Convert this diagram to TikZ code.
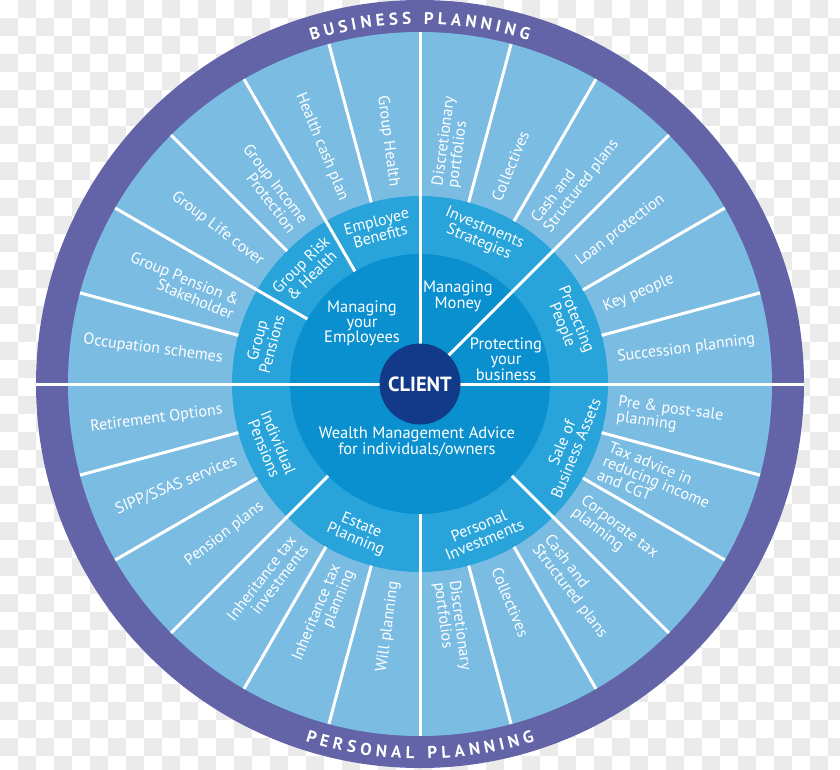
\documentclass[tikz,border=0pt]{standalone}
\usepackage{fontspec}
\setmainfont{PT Sans}
\usetikzlibrary{decorations.text}
\definecolor{ringpurple}{HTML}{6264A7}
\definecolor{segblue}{HTML}{7BBCE3}
\definecolor{midblue}{HTML}{29A4DB}
\definecolor{innerblue}{HTML}{0A90CF}
\definecolor{clientnavy}{HTML}{123A88}
\definecolor{checkgrey}{HTML}{EBEBEB}
\newcommand\lblfont{\fontsize{16}{15.2}\selectfont}
\newcommand\ttlfont{\fontsize{17}{17}\selectfont\bfseries}
\begin{document}
\begin{tikzpicture}[x=1pt,y=1pt,
  sepline/.style={white, line width=3pt},
  lefttxt/.style={text=white, inner sep=0pt, anchor=east, align=right, font=\lblfont},
  righttxt/.style={text=white, inner sep=0pt, anchor=west, align=left, font=\lblfont},
  midtxt/.style={text=white, inner sep=0pt, anchor=center, align=center, font=\lblfont},
  innertxt/.style={text=white, inner sep=0pt, anchor=center, align=center, font=\fontsize{16.5}{15}\selectfont},
  ringtxt/.style={decorate, decoration={text along path, text align={fit to path}, text color=white}}]
\useasboundingbox (-420,-385) rectangle (420,384);
% transparency checkerboard
\begin{scope}
\clip (-420,-385) rectangle (420,384);
\foreach \i in {0,...,46} {
  \pgfmathtruncatemacro\off{1-mod(\i,2)}
  \foreach \k in {0,...,21} {
    \fill[checkgrey] ({18*\i-420},{384-18*(2*\k+\off)}) rectangle ++(18,-18);
  }
}
\end{scope}
% rings
\fill[ringpurple] (0,0) circle[radius=384];
\fill[segblue] (0,0) circle[radius=352];
\fill[midblue] (0,0) circle[radius=188];
\fill[innerblue] (0,0) circle[radius=130];
% separators
\coordinate (wl) at (180:384);
\coordinate (wr) at (0:384);
\draw[sepline] (wl) -- (wr);
\foreach \a in {90,45} \draw[sepline] (\a:40) -- (\a:352);
\foreach \a in {120,150,225,270,315} \draw[sepline] (\a:130) -- (\a:352);
\foreach \a in {15,30,60,75,105,135,165,195,210,240,255,285,300,330,345} \draw[sepline] (\a:188) -- (\a:352);
% outer labels, left half
\foreach \a/\t [count=\i] in {172.5/{Occupation schemes}, 157.5/{Group Pension \&\\Stakeholder}, 142.5/{Group Life cover}, 127.5/{Group Income\\Protection}, 112.5/{Health cash plan}, 97.5/{Group Health}, 187.5/{Retirement Options}, 202.5/{SIPP/SSAS services}, 217.5/{Pension plans}, 232.5/{Inheritance tax\\investments}, 247.5/{Inheritance tax\\planning}, 262.5/{Will planning}}
  \node[lefttxt, rotate=\a-180] (L\i) at (\a:199) {\t};
% outer labels, right half
\foreach \a/\t [count=\i] in {82.5/{Discretionary\\portfolios}, 67.5/{Collectives}, 52.5/{Cash and\\Structured plans}, 37.5/{Loan protection}, 22.5/{Key people}, 7.5/{Succession planning}, -82.5/{Discretionary\\portfolios}, -67.5/{Collectives}, -52.5/{Cash and\\Structured plans}, -37.5/{Corporate tax\\planning}, -22.5/{Tax advice in\\reducing income\\and CGT}, -7.5/{Pre \& post-sale\\planning}}
  \node[righttxt, rotate=\a] (R\i) at (\a:199) {\t};
% middle ring labels
\foreach \a/\t [count=\i] in {165/{Group\\Pensions}, 135/{Group Risk\\\& Health}, 105/{Employee\\Benefits}, 67.5/{Investments\\Strategies}, 22.5/{Protecting\\People}}
  \node[midtxt, rotate=\a-90] (MT\i) at (\a:161) {\t};
\foreach \a/\t [count=\i] in {202.5/{Individual\\Pensions}, 247.5/{Estate\\Planning}, 292.5/{Personal\\Investments}, 337.5/{Sale of\\Business Assets}}
  \node[midtxt, rotate=\a+90] (MB\i) at (\a:161) {\t};
% inner labels
\node[innertxt] (emp) at (-58,61) {Managing\\your\\Employees};
\node[innertxt] (money) at (38,88) {Managing\\Money};
\node[innertxt] (protect) at (86,25) {Protecting\\your\\business};
\node[innertxt] (wealth) at (-3,-57.5) {Wealth Management Advice\\for individuals/owners};
% client
\node[circle, fill=clientnavy, minimum size=81pt, inner sep=0pt, text=white, font=\fontsize{20.5}{20.5}\selectfont\bfseries] (client) at (0,0) {CLIENT};
% ring titles
\path[ringtxt, decoration={text={|\ttlfont|BUSINESS PLANNING}}] (107.5:360) arc[start angle=107.5, end angle=72.5, radius=360];
\path[ringtxt, decoration={text={|\ttlfont|PERSONAL PLANNING}}] (252.2:375) arc[start angle=252.2, end angle=287.8, radius=375];
\end{tikzpicture}
\end{document}
